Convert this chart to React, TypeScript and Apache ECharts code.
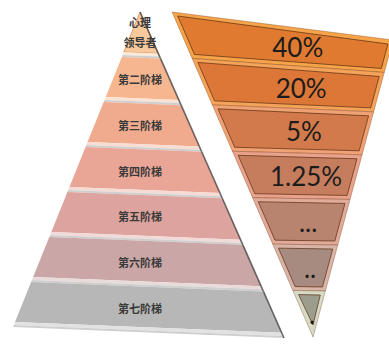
import React, { useEffect, useRef } from "react";
import * as echarts from "echarts";

// ---- data ----
const leftLabels = ["心理\n领导者", "第二阶梯", "第三阶梯", "第四阶梯", "第五阶梯", "第六阶梯", "第七阶梯"];
const rightLabels = ["40%", "20%", "5%", "1.25%", "...", "..", "."];

// ---- styles ----
const leftColors = ["#f8c99c", "#f5b690", "#f0aa8e", "#e9a697", "#dda39e", "#caa6a6", "#b7b7b7"];
const rightFills = ["#e07a30", "#dc7737", "#d27a4b", "#c67d5e", "#b8836f", "#a88b80", "#9c9d8d"];
const rightBorders = ["#f6a44a", "#f4a358", "#f0a274", "#e9a28c", "#e2aa9a", "#d9b4a8", "#d6dbc8"];

// ---- layout (pixel-like units of the hidden cartesian grid) ----
const W = 389;
const H = 345;
type P = [number, number];
const LA: P = [140, 12];
const LBL: P = [13, 327];
const LBR: P = [284, 338];
const RTL: P = [172, 12];
const RTR: P = [393, 40];
const RAP: P = [313, 337];
const TILT = 28;

const lerp = (a: P, b: P, t: number): P => [a[0] + (b[0] - a[0]) * t, a[1] + (b[1] - a[1]) * t];
const add = (a: P, b: P): P => [a[0] + b[0], a[1] + b[1]];
const mix = (hex: string, w: number) => {
  const n = parseInt(hex.slice(1), 16);
  const r = (n >> 16) & 255, g = (n >> 8) & 255, b = n & 255;
  const f = (v: number) => Math.round(v + (255 - v) * w);
  return `rgb(${f(r)},${f(g)},${f(b)})`;
};

function renderLeft(params: any, api: any) {
  const i = params.dataIndex;
  const n = leftLabels.length;
  const c = (p: P) => api.coord(p);
  const px = 1 / (LBL[1] - LA[1]);
  const t0 = i / n;
  const t1 = (i + 1) / n;
  const quad = (a: number, b: number) =>
    [lerp(LA, LBL, a), lerp(LA, LBR, a), lerp(LA, LBR, b), lerp(LA, LBL, b)].map(c);
  const bandTop = t1 - 5 * px;
  const grayTop = t1 - 2 * px;
  const tr = c(lerp(LA, LBR, t0));
  const br = c(lerp(LA, LBR, t1));
  const cy =
    (lerp(LA, LBL, t0)[1] + lerp(LA, LBR, t0)[1] + lerp(LA, LBL, bandTop)[1] + lerp(LA, LBR, bandTop)[1]) / 4;
  const center = c([LA[0], cy + (i === 0 ? 0 : 1)]);
  return {
    type: "group",
    children: [
      { type: "polygon", shape: { points: quad(t0, bandTop) }, style: { fill: leftColors[i], stroke: i === 0 ? "#d98a50" : undefined, lineWidth: 0.8 } },
      { type: "polygon", shape: { points: quad(bandTop, grayTop) }, style: { fill: mix(leftColors[i], 0.6) } },
      { type: "polygon", shape: { points: quad(grayTop, t1) }, style: { fill: "#cfcfcf" } },
      { type: "line", shape: { x1: tr[0], y1: tr[1], x2: br[0], y2: br[1] }, style: { stroke: "rgba(60,60,60,0.75)", lineWidth: 1.6 } },
      {
        type: "text",
        x: center[0],
        y: center[1],
        style: {
          text: leftLabels[i],
          fill: "#3a3a3a",
          fontSize: 11,
          fontWeight: "bold",
          fontFamily: "Noto Sans CJK SC",
          align: "center",
          verticalAlign: "middle",
          lineHeight: 20,
        },
      },
    ],
  };
}

function rightBound(k: number) {
  const n = rightLabels.length;
  const t = k / n;
  const L = lerp(RTL, RAP, t);
  const yR = L[1] + TILT * Math.pow(0.5, k);
  const u = Math.min(1, (yR - RTR[1]) / (RAP[1] - RTR[1]));
  const R = lerp(RTR, RAP, u);
  return { t, u, L, R };
}

function renderRight(params: any, api: any) {
  const i = params.dataIndex;
  const n = rightLabels.length;
  const c = (p: P) => api.coord(p);
  const b0 = rightBound(i);
  const b1 = rightBound(i + 1);
  const ins = 4;
  const dvL = ins / (RAP[1] - RTL[1]);
  const dvR = ins / (RAP[1] - RTR[1]);
  const last = i === n - 1;
  const outer = [b0.L, b0.R, b1.R, b1.L].map(c);
  const iTL = add(lerp(RTL, RAP, b0.t + dvL), [ins, 0]);
  const iTR = add(lerp(RTR, RAP, b0.u + dvR), [-ins, 0]);
  let iBR: P, iBL: P;
  if (last) {
    iBR = [RAP[0], RAP[1] - 3 * ins];
    iBL = iBR;
  } else {
    iBR = add(lerp(RTR, RAP, b1.u - dvR), [-ins, 0]);
    iBL = add(lerp(RTL, RAP, b1.t - dvL), [ins, 0]);
  }
  const inner = [iTL, iTR, iBR, iBL].map(c);
  const m0 = lerp(b0.L, b0.R, 0.56);
  const m1 = lerp(b1.L, b1.R, 0.56);
  const center = c(lerp(m0, m1, 0.5));
  return {
    type: "group",
    children: [
      { type: "polygon", shape: { points: outer }, style: { fill: rightBorders[i], stroke: "rgba(120,60,20,0.45)", lineWidth: 0.8 } },
      { type: "polygon", shape: { points: inner }, style: { fill: rightFills[i], stroke: "rgba(90,45,15,0.7)", lineWidth: 1 } },
      {
        type: "text",
        x: center[0],
        y: center[1],
        style: {
          text: rightLabels[i],
          fill: "#1c1c1c",
          fontSize: 26,
          fontFamily: "Lato",
          align: "center",
          verticalAlign: "middle",
        },
      },
    ],
  };
}

export default function App() {
  const ref = useRef<HTMLDivElement>(null);
  useEffect(() => {
    const chart = echarts.init(ref.current!, null, { renderer: "svg" });
    chart.setOption({
      animation: false,
      backgroundColor: "#ffffff",
      grid: { left: 0, right: 0, top: 0, bottom: 0 },
      xAxis: { type: "value", min: 0, max: W, show: false },
      yAxis: { type: "value", min: 0, max: H, inverse: true, show: false },
      series: [
        {
          type: "custom",
          name: "阶梯",
          renderItem: renderLeft,
          data: leftLabels.map((name, i) => ({ name, value: [i, i] })),
        },
        {
          type: "custom",
          name: "比例",
          renderItem: renderRight,
          data: rightLabels.map((name, i) => ({ name, value: [i, i] })),
        },
      ],
    });
    return () => chart.dispose();
  }, []);
  return <div ref={ref} style={{ position: "fixed", left: 0, top: 0, width: W, height: H }} />;
}
